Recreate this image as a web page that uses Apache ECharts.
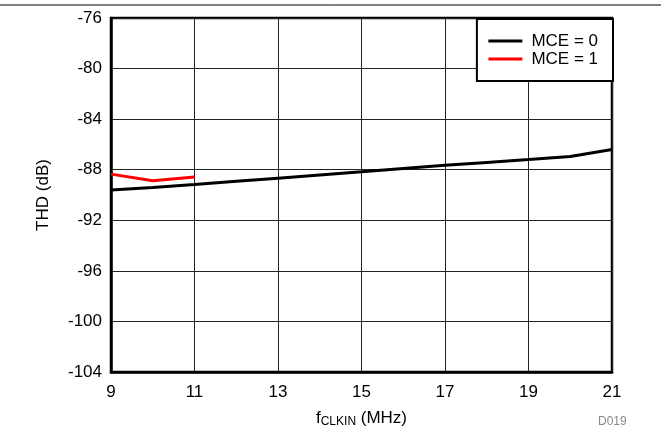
<!DOCTYPE html>
<html>
<head>
<meta charset="utf-8">
<script src="https://cdn.jsdelivr.net/npm/echarts@6/dist/echarts.min.js"></script>
<style>
html,body{margin:0;padding:0;background:#fff;}
#chart{width:661px;height:435px;}
</style>
</head>
<body>
<div id="chart"></div>
<script>
var freqMce0 = [9, 10, 11, 12, 13, 14, 15, 16, 17, 18, 19, 20, 21];
var thdMce0 = [-89.6, -89.4, -89.17, -88.92, -88.67, -88.42, -88.17, -87.9, -87.65, -87.42, -87.2, -86.95, -86.4];
var freqMce1 = [9, 10, 11];
var thdMce1 = [-88.35, -88.88, -88.57];
var seriesNames = ['MCE = 0', 'MCE = 1'];
var xTicks = [9, 11, 13, 15, 17, 19, 21];
var yTicks = [-104, -100, -96, -92, -88, -84, -80, -76];

var FONT = '"Liberation Sans", Arial, sans-serif';
function pairs(xs, ys) { return xs.map(function (x, i) { return [x, ys[i]]; }); }

var chart = echarts.init(document.getElementById('chart'));
chart.setOption({
  animation: false,
  backgroundColor: '#fff',
  grid: { left: 111, right: 49, top: 18, bottom: 63, show: true, borderColor: '#000', borderWidth: 2.5, backgroundColor: 'transparent' },
  legend: {
    orient: 'vertical',
    right: 48,
    top: 19,
    data: seriesNames,
    backgroundColor: '#fff',
    borderColor: '#000',
    borderWidth: 2,
    borderRadius: 0,
    padding: [13, 15, 13, 10],
    itemWidth: 34,
    itemHeight: 12,
    itemGap: 0,
    itemStyle: { opacity: 0, borderWidth: 0 },
    lineStyle: { width: 3 },
    textStyle: { fontFamily: FONT, fontSize: 17, color: '#000', lineHeight: 18, padding: [0, 0, 0, 4] }
  },
  xAxis: {
    type: 'value',
    min: xTicks[0],
    max: xTicks[xTicks.length - 1],
    interval: 2,
    axisLine: { show: true, lineStyle: { color: '#000', width: 2.5 } },
    axisTick: { show: false },
    splitLine: { show: true, lineStyle: { color: '#222', width: 1 } },
    axisLabel: { fontFamily: FONT, fontSize: 17, color: '#000', margin: 12 },
    name: '{n|f}{s|CLKIN}{n| (MHz)}',
    nameLocation: 'middle',
    nameGap: 36,
    nameTextStyle: {
      fontFamily: FONT, fontSize: 17, color: '#000',
      rich: {
        n: { fontFamily: FONT, fontSize: 17, color: '#000' },
        s: { fontFamily: FONT, fontSize: 12, color: '#000', verticalAlign: 'bottom', padding: [8, 0, 0, 0] }
      }
    }
  },
  yAxis: {
    type: 'value',
    min: yTicks[0],
    max: yTicks[yTicks.length - 1],
    interval: 4,
    axisLine: { show: true, lineStyle: { color: '#000', width: 2.5 } },
    axisTick: { show: false },
    splitLine: { show: true, lineStyle: { color: '#222', width: 1 } },
    axisLabel: { fontFamily: FONT, fontSize: 17, color: '#000', margin: 9 },
    name: 'THD (dB)',
    nameLocation: 'middle',
    nameGap: 59,
    nameTextStyle: { fontFamily: FONT, fontSize: 17, color: '#000' }
  },
  series: [
    {
      name: seriesNames[0], type: 'line', data: pairs(freqMce0, thdMce0),
      symbol: 'none', lineStyle: { color: '#000', width: 3 }, itemStyle: { color: '#000' }, z: 3
    },
    {
      name: seriesNames[1], type: 'line', data: pairs(freqMce1, thdMce1),
      symbol: 'none', lineStyle: { color: '#ff0000', width: 3 }, itemStyle: { color: '#ff0000' }, z: 4
    }
  ],
  graphic: [
    { type: 'line', shape: { x1: 0, y1: 5, x2: 661, y2: 5 }, style: { stroke: '#000', lineWidth: 1 } },
    { type: 'text', left: 598, top: 416, style: { text: 'D019', fontFamily: FONT, fontSize: 12, fill: '#888' } }
  ]
});
</script>
</body>
</html>
